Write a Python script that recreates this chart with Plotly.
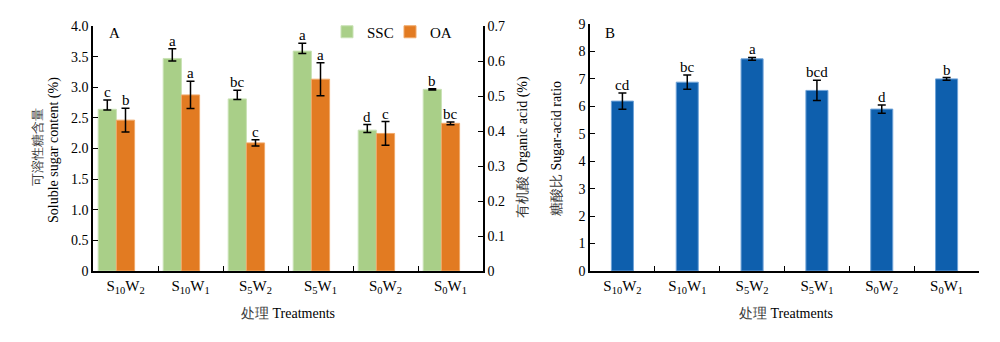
import plotly.graph_objects as go

treatments = ["S<sub>10</sub>W<sub>2</sub>", "S<sub>10</sub>W<sub>1</sub>", "S<sub>5</sub>W<sub>2</sub>",
              "S<sub>5</sub>W<sub>1</sub>", "S<sub>0</sub>W<sub>2</sub>", "S<sub>0</sub>W<sub>1</sub>"]
ssc = [2.64, 3.47, 2.81, 3.59, 2.30, 2.966]
ssc_err_plus = [0.15, 0.16, 0.14, 0.13, 0.09, 0.01]
ssc_err_minus = [0.01, 0.04, 0.01, 0.04, 0.04, 0.01]
ssc_letters = ["c", "a", "bc", "a", "d", "b"]
oa = [0.431, 0.503, 0.366, 0.548, 0.393, 0.422]
oa_err = [0.034, 0.039, 0.009, 0.047, 0.034, 0.004]
oa_letters = ["b", "a", "c", "a", "c", "bc"]
ratio = [6.19, 6.88, 7.73, 6.58, 5.90, 7.00]
ratio_err = [0.30, 0.26, 0.05, 0.37, 0.15, 0.05]
ratio_letters = ["cd", "bc", "a", "bcd", "d", "b"]

left_ticks = [0, 0.5, 1.0, 1.5, 2.0, 2.5, 3.0, 3.5, 4.0]
left_ticktext = ["0", "0.5", "1.0", "1.5", "2.0", "2.5", "3.0", "3.5", "4.0"]
right_ticks = [0, 0.1, 0.2, 0.3, 0.4, 0.5, 0.6, 0.7]
right_ticktext = ["0", "0.1", "0.2", "0.3", "0.4", "0.5", "0.6", "0.7"]
b_ticks = list(range(0, 10))

FONT = "Liberation Serif, Times New Roman, DejaVu Serif, serif"
GREEN = "#a9cf88"
ORANGE = "#e27b22"
BLUE = "#0e5fad"
BW = 0.28

fig = go.Figure()
eb = dict(color="black", thickness=1.5, width=4)

fig.add_trace(go.Bar(
    x=treatments, y=ssc, name="SSC", xaxis="x", yaxis="y",
    marker=dict(color=GREEN, line=dict(color="#c9e2b5", width=1)),
    offset=-0.42, width=BW,
    error_y=dict(type="data", array=ssc_err_plus, arrayminus=ssc_err_minus, symmetric=False, **eb),
))
fig.add_trace(go.Bar(
    x=treatments, y=oa, name="OA", xaxis="x", yaxis="y2",
    marker=dict(color=ORANGE, line=dict(color="#f0a868", width=1)),
    offset=-0.14, width=BW,
    error_y=dict(type="data", array=oa_err, **eb),
))
fig.add_trace(go.Bar(
    x=treatments, y=ratio, name="ratio", xaxis="x2", yaxis="y3", showlegend=False,
    marker=dict(color=BLUE, line=dict(color="#6fa3d8", width=1)),
    width=0.34,
    error_y=dict(type="data", array=ratio_err, **eb),
))

annotations = []
for i in range(len(treatments)):
    annotations.append(dict(x=i - 0.28, y=ssc[i] + ssc_err_plus[i], xref="x", yref="y",
                            text=ssc_letters[i], showarrow=False, yanchor="bottom", yshift=-2,
                            font=dict(family=FONT, size=15, color="black")))
    annotations.append(dict(x=i, y=oa[i] + oa_err[i], xref="x", yref="y2",
                            text=oa_letters[i], showarrow=False, yanchor="bottom", yshift=-2,
                            font=dict(family=FONT, size=15, color="black")))
    annotations.append(dict(x=i, y=ratio[i] + ratio_err[i], xref="x2", yref="y3",
                            text=ratio_letters[i], showarrow=False, yanchor="bottom", yshift=-2,
                            font=dict(family=FONT, size=15, color="black")))

def ann(text, x, y, angle=0, size=13, color="black"):
    annotations.append(dict(text=text, x=x, y=y, xref="paper", yref="paper", showarrow=False,
                            textangle=angle, xanchor="center", yanchor="middle",
                            font=dict(family=FONT, size=size, color=color)))

H = 342.0
W = 1000.0
ann("A", 114 / W, 1 - 33 / H, size=15)
ann("B", 610 / W, 1 - 33 / H, size=15)
ann("可溶性糖含量", 37 / W, 1 - 147 / H, angle=-90, size=13, color="#3a3a3a")
ann("Soluble sugar content (%)", 54 / W, 1 - 150 / H, angle=-90, size=14)
ann("<span style='color:#3a3a3a'>有机酸</span> Organic acid (%)", 523 / W, 1 - 147 / H, angle=-90, size=14)
ann("<span style='color:#3a3a3a'>糖酸比</span> Sugar-acid ratio", 557 / W, 1 - 149 / H, angle=-90, size=14)
ann("<span style='color:#3a3a3a'>处理</span> Treatments", 288 / W, 1 - 313 / H, size=14)
ann("<span style='color:#3a3a3a'>处理</span> Treatments", 786 / W, 1 - 313 / H, size=14)

axis_common = dict(showline=True, linecolor="black", linewidth=1.5, showgrid=False, zeroline=False,
                   ticks="inside", tickcolor="black", tickwidth=1.2, ticklen=5, automargin=False,
                   tickfont=dict(family=FONT, size=14, color="black"))

fig.update_layout(
    template="none",
    width=1000, height=342,
    margin=dict(l=0, r=0, t=0, b=0, pad=0),
    paper_bgcolor="white", plot_bgcolor="white",
    barmode="overlay",
    font=dict(family=FONT, size=14, color="black"),
    showlegend=True,
    legend=dict(orientation="h", x=0.327, y=1 - 32 / H, xanchor="left", yanchor="middle",
                font=dict(family=FONT, size=15, color="black"), bgcolor="rgba(0,0,0,0)",
                itemwidth=30, tracegroupgap=0, entrywidth=18, entrywidthmode="pixels"),
    xaxis=dict(domain=[93 / W, 483 / W], anchor="y", type="category", tickson="boundaries",
               range=[-0.5, 5.5], **{**axis_common, "tickfont": dict(family=FONT, size=15, color="black")}),
    yaxis=dict(domain=[1 - 271 / H, 1 - 26 / H], anchor="x", range=[0, 4.0],
               tickvals=left_ticks, ticktext=left_ticktext, **axis_common),
    yaxis2=dict(overlaying="y", side="right", anchor="x", range=[0, 0.7],
                tickvals=right_ticks, ticktext=right_ticktext, **axis_common),
    xaxis2=dict(domain=[590 / W, 979 / W], anchor="y3", type="category", tickson="boundaries",
                range=[-0.5, 5.5], **{**axis_common, "tickfont": dict(family=FONT, size=15, color="black")}),
    yaxis3=dict(domain=[1 - 271 / H, 1 - 24 / H], anchor="x2", range=[0, 9],
                tickvals=b_ticks, **axis_common),
    annotations=annotations,
)

fig.write_html("out.html")
